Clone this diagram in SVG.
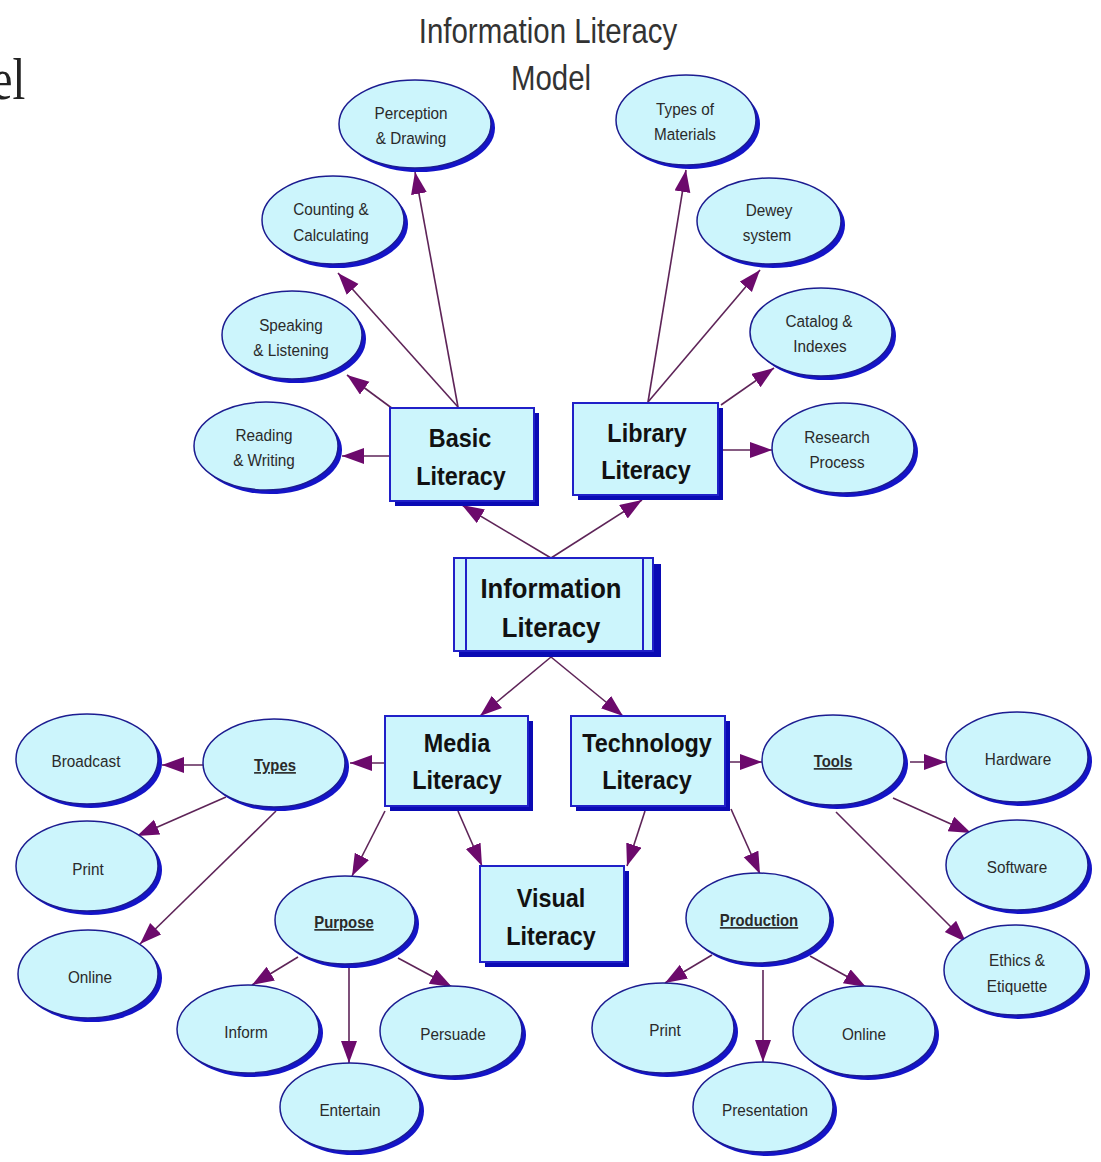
<svg xmlns="http://www.w3.org/2000/svg" width="1101" height="1162" viewBox="0 0 1101 1162">
<defs>
<style>
.sh{fill:#1414c8;}
.el{fill:#ccf5fc;stroke:#1c1c90;stroke-width:1.5;}
.bx{fill:#ccf5fc;stroke:#2020c8;stroke-width:2;}
.bsh{fill:#0a0ab4;}
.lt{font-family:"Liberation Sans",Arial,sans-serif;font-size:17px;fill:#2a2a2a;text-anchor:middle;}
.ul{font-family:"Liberation Sans",Arial,sans-serif;font-size:16.5px;font-weight:bold;fill:#2a2a2a;text-anchor:middle;text-decoration:underline;}
.bt{font-family:"Liberation Sans",Arial,sans-serif;font-size:26px;font-weight:bold;fill:#111;text-anchor:middle;}
.ct{font-family:"Liberation Sans",Arial,sans-serif;font-size:28.5px;font-weight:bold;fill:#111;text-anchor:middle;}
.ti{font-family:"Liberation Sans",Arial,sans-serif;font-size:31px;fill:#333;text-anchor:middle;}
.cn{stroke:#5e2458;stroke-width:1.6;fill:none;marker-end:url(#ah);}
</style>
<marker id="ah" markerWidth="24" markerHeight="18" refX="22" refY="8" orient="auto" markerUnits="userSpaceOnUse">
<path d="M0,0 L22,8 L0,16 Z" fill="#6c0a6c"/>
</marker>
</defs>
<rect width="1101" height="1162" fill="#ffffff"/>
<text transform="translate(-8,99) scale(1,1.3)" font-family="'Liberation Serif',serif" font-size="46" fill="#222">el</text>
<text class="ti" transform="translate(548,43) scale(0.95,1.15)">Information Literacy</text>
<text class="ti" transform="translate(551,90) scale(0.95,1.15)">Model</text>

<g id="connectors">
<path class="cn" d="M458,407 L415,172"/>
<path class="cn" d="M458,407 L338,273"/>
<path class="cn" d="M393,409 L347,375"/>
<path class="cn" d="M390,456 L342,456"/>
<path class="cn" d="M648,402 L686,170"/>
<path class="cn" d="M648,402 L760,270"/>
<path class="cn" d="M721,405 L774,368"/>
<path class="cn" d="M721,450 L772,450"/>
<path class="cn" d="M551,558 L462,505"/>
<path class="cn" d="M551,558 L642,500"/>
<path class="cn" d="M551,657 L480,716"/>
<path class="cn" d="M551,657 L623,716"/>
<path class="cn" d="M384,763 L350,763"/>
<path class="cn" d="M204,765 L162,765"/>
<path class="cn" d="M226,797 L137,836"/>
<path class="cn" d="M276,811 L140,944"/>
<path class="cn" d="M385,811 L352,876"/>
<path class="cn" d="M458,811 L482,866"/>
<path class="cn" d="M645,811 L627,866"/>
<path class="cn" d="M727,762 L762,762"/>
<path class="cn" d="M731,809 L760,874"/>
<path class="cn" d="M910,762 L946,762"/>
<path class="cn" d="M893,798 L971,833"/>
<path class="cn" d="M836,812 L966,942"/>
<path class="cn" d="M298,957 L252,985"/>
<path class="cn" d="M349,968 L349,1063"/>
<path class="cn" d="M398,958 L452,987"/>
<path class="cn" d="M712,955 L665,983"/>
<path class="cn" d="M763,970 L763,1062"/>
<path class="cn" d="M810,956 L866,987"/>
</g>

<g id="perception"><ellipse class="sh" cx="419" cy="128" rx="76" ry="44"/><ellipse class="el" cx="415" cy="124" rx="76" ry="44"/><text class="lt" transform="translate(411,119) scale(0.9,1)">Perception</text><text class="lt" transform="translate(411,144) scale(0.9,1)">&amp; Drawing</text></g>
<g id="types-of-materials"><ellipse class="sh" cx="690" cy="124" rx="70" ry="45"/><ellipse class="el" cx="686" cy="120" rx="70" ry="45"/><text class="lt" transform="translate(685,115) scale(0.9,1)">Types of</text><text class="lt" transform="translate(685,140) scale(0.9,1)">Materials</text></g>
<g id="counting"><ellipse class="sh" cx="337" cy="224" rx="71" ry="44"/><ellipse class="el" cx="333" cy="220" rx="71" ry="44"/><text class="lt" transform="translate(331,215) scale(0.9,1)">Counting &amp;</text><text class="lt" transform="translate(331,241) scale(0.9,1)">Calculating</text></g>
<g id="dewey"><ellipse class="sh" cx="773" cy="225" rx="72" ry="43"/><ellipse class="el" cx="769" cy="221" rx="72" ry="43"/><text class="lt" transform="translate(769,216) scale(0.9,1)">Dewey</text><text class="lt" transform="translate(767,241) scale(0.9,1)">system</text></g>
<g id="speaking"><ellipse class="sh" cx="296" cy="339" rx="70" ry="44"/><ellipse class="el" cx="292" cy="335" rx="70" ry="44"/><text class="lt" transform="translate(291,331) scale(0.9,1)">Speaking</text><text class="lt" transform="translate(291,356) scale(0.9,1)">&amp; Listening</text></g>
<g id="catalog"><ellipse class="sh" cx="825" cy="336" rx="71" ry="44"/><ellipse class="el" cx="821" cy="332" rx="71" ry="44"/><text class="lt" transform="translate(819,327) scale(0.9,1)">Catalog &amp;</text><text class="lt" transform="translate(820,352) scale(0.9,1)">Indexes</text></g>
<g id="reading"><ellipse class="sh" cx="270" cy="450" rx="72" ry="44"/><ellipse class="el" cx="266" cy="446" rx="72" ry="44"/><text class="lt" transform="translate(264,441) scale(0.9,1)">Reading</text><text class="lt" transform="translate(264,466) scale(0.9,1)">&amp; Writing</text></g>
<g id="research"><ellipse class="sh" cx="847" cy="452" rx="71" ry="45"/><ellipse class="el" cx="843" cy="448" rx="71" ry="45"/><text class="lt" transform="translate(837,443) scale(0.9,1)">Research</text><text class="lt" transform="translate(837,468) scale(0.9,1)">Process</text></g>

<g id="basic-literacy"><rect class="bsh" x="395" y="413" width="144" height="93"/><rect class="bx" x="390" y="408" width="144" height="93"/><text class="bt" transform="translate(460,447) scale(0.9,1)">Basic</text><text class="bt" transform="translate(461,485) scale(0.9,1)">Literacy</text></g>
<g id="library-literacy"><rect class="bsh" x="578" y="408" width="145" height="92"/><rect class="bx" x="573" y="403" width="145" height="92"/><text class="bt" transform="translate(647,442) scale(0.9,1)">Library</text><text class="bt" transform="translate(646,479) scale(0.9,1)">Literacy</text></g>
<g id="information-literacy"><rect class="bsh" x="459" y="564" width="202" height="93"/><rect class="bx" x="454" y="558" width="199" height="93"/><line x1="466" y1="558" x2="466" y2="651" stroke="#2020c8" stroke-width="2"/><line x1="643" y1="558" x2="643" y2="651" stroke="#2020c8" stroke-width="2"/><text class="ct" transform="translate(551,598) scale(0.9,1)">Information</text><text class="ct" transform="translate(551,637) scale(0.9,1)">Literacy</text></g>
<g id="media-literacy"><rect class="bsh" x="390" y="721" width="143" height="90"/><rect class="bx" x="385" y="716" width="143" height="90"/><text class="bt" transform="translate(457,752) scale(0.9,1)">Media</text><text class="bt" transform="translate(457,789) scale(0.9,1)">Literacy</text></g>
<g id="technology-literacy"><rect class="bsh" x="576" y="721" width="154" height="90"/><rect class="bx" x="571" y="716" width="154" height="90"/><text class="bt" transform="translate(647,752) scale(0.9,1)">Technology</text><text class="bt" transform="translate(647,789) scale(0.9,1)">Literacy</text></g>
<g id="visual-literacy"><rect class="bsh" x="485" y="871" width="144" height="96"/><rect class="bx" x="480" y="866" width="144" height="96"/><text class="bt" transform="translate(551,907) scale(0.9,1)">Visual</text><text class="bt" transform="translate(551,945) scale(0.9,1)">Literacy</text></g>

<g id="broadcast"><ellipse class="sh" cx="91" cy="763" rx="71" ry="45"/><ellipse class="el" cx="87" cy="759" rx="71" ry="45"/><text class="lt" transform="translate(86,767) scale(0.9,1)">Broadcast</text></g>
<g id="types"><ellipse class="sh" cx="278" cy="767" rx="71" ry="44"/><ellipse class="el" cx="274" cy="763" rx="71" ry="44"/><text class="ul" transform="translate(275,771) scale(0.9,1)">Types</text></g>
<g id="print-media"><ellipse class="sh" cx="91" cy="870" rx="71" ry="45"/><ellipse class="el" cx="87" cy="866" rx="71" ry="45"/><text class="lt" transform="translate(88,875) scale(0.9,1)">Print</text></g>
<g id="online-media"><ellipse class="sh" cx="92" cy="978" rx="70" ry="44"/><ellipse class="el" cx="88" cy="974" rx="70" ry="44"/><text class="lt" transform="translate(90,983) scale(0.9,1)">Online</text></g>
<g id="purpose"><ellipse class="sh" cx="349" cy="924" rx="70" ry="44"/><ellipse class="el" cx="345" cy="920" rx="70" ry="44"/><text class="ul" transform="translate(344,928) scale(0.9,1)">Purpose</text></g>
<g id="inform"><ellipse class="sh" cx="252" cy="1033" rx="71" ry="44"/><ellipse class="el" cx="248" cy="1029" rx="71" ry="44"/><text class="lt" transform="translate(246,1038) scale(0.9,1)">Inform</text></g>
<g id="persuade"><ellipse class="sh" cx="455" cy="1035" rx="71" ry="45"/><ellipse class="el" cx="451" cy="1031" rx="71" ry="45"/><text class="lt" transform="translate(453,1040) scale(0.9,1)">Persuade</text></g>
<g id="entertain"><ellipse class="sh" cx="354" cy="1111" rx="70" ry="44"/><ellipse class="el" cx="350" cy="1107" rx="70" ry="44"/><text class="lt" transform="translate(350,1116) scale(0.9,1)">Entertain</text></g>
<g id="tools"><ellipse class="sh" cx="837" cy="764" rx="71" ry="45"/><ellipse class="el" cx="833" cy="760" rx="71" ry="45"/><text class="ul" transform="translate(833,767) scale(0.9,1)">Tools</text></g>
<g id="hardware"><ellipse class="sh" cx="1021" cy="761" rx="71" ry="45"/><ellipse class="el" cx="1017" cy="757" rx="71" ry="45"/><text class="lt" transform="translate(1018,765) scale(0.9,1)">Hardware</text></g>
<g id="software"><ellipse class="sh" cx="1021" cy="869" rx="71" ry="45"/><ellipse class="el" cx="1017" cy="865" rx="71" ry="45"/><text class="lt" transform="translate(1017,873) scale(0.9,1)">Software</text></g>
<g id="ethics"><ellipse class="sh" cx="1019" cy="974" rx="71" ry="45"/><ellipse class="el" cx="1015" cy="970" rx="71" ry="45"/><text class="lt" transform="translate(1017,966) scale(0.9,1)">Ethics &amp;</text><text class="lt" transform="translate(1017,992) scale(0.9,1)">Etiquette</text></g>
<g id="production"><ellipse class="sh" cx="762" cy="922" rx="72" ry="45"/><ellipse class="el" cx="758" cy="918" rx="72" ry="45"/><text class="ul" transform="translate(759,926) scale(0.9,1)">Production</text></g>
<g id="print-tech"><ellipse class="sh" cx="667" cy="1032" rx="71" ry="45"/><ellipse class="el" cx="663" cy="1028" rx="71" ry="45"/><text class="lt" transform="translate(665,1036) scale(0.9,1)">Print</text></g>
<g id="online-tech"><ellipse class="sh" cx="868" cy="1035" rx="71" ry="45"/><ellipse class="el" cx="864" cy="1031" rx="71" ry="45"/><text class="lt" transform="translate(864,1040) scale(0.9,1)">Online</text></g>
<g id="presentation"><ellipse class="sh" cx="767" cy="1111" rx="70" ry="45"/><ellipse class="el" cx="763" cy="1107" rx="70" ry="45"/><text class="lt" transform="translate(765,1116) scale(0.9,1)">Presentation</text></g>
</svg>
